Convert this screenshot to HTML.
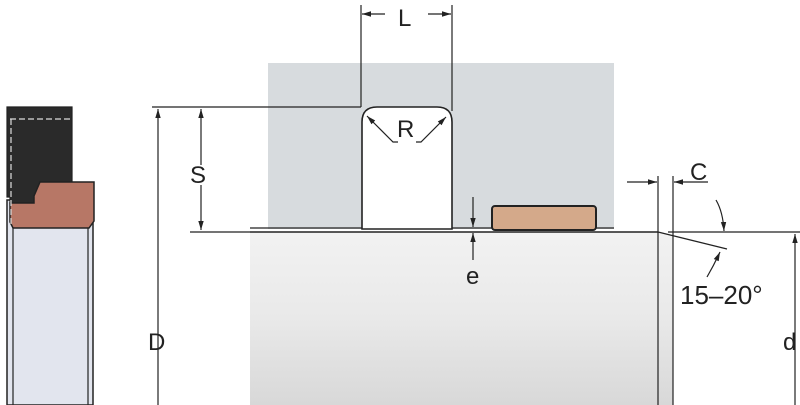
<!DOCTYPE html>
<html><head><style>body{margin:0;background:#fff}svg{display:block}text{font-family:"Liberation Sans",sans-serif;fill:#222}</style></head><body>
<svg width="800" height="405" viewBox="0 0 800 405" xmlns="http://www.w3.org/2000/svg">
<defs>
<linearGradient id="sh" x1="0" y1="0" x2="0" y2="1"><stop offset="0" stop-color="#f2f2f2"/><stop offset="0.5" stop-color="#e9e9e9"/><stop offset="1" stop-color="#d8d8d8"/></linearGradient>
<marker id="a" viewBox="0 0 10 10" refX="10" refY="5" markerWidth="9" markerHeight="9" orient="auto-start-reverse" markerUnits="userSpaceOnUse"><path d="M0,2 L10,5 L0,8z" fill="#222"/></marker>
</defs>
<!-- housing -->
<rect x="268" y="63" width="346" height="166" fill="#d7dbde"/>
<!-- shaft -->
<path d="M250,232 L658,232 L673,236 L673,405 L250,405z" fill="url(#sh)"/>
<line x1="250" y1="232" x2="658" y2="232" stroke="#222" stroke-width="1.5"/>
<line x1="658" y1="232" x2="658" y2="405" stroke="#222" stroke-width="1.2"/>
<line x1="250" y1="228" x2="614" y2="228" stroke="#222" stroke-width="1.2"/>
<!-- groove -->
<path d="M362,229 L362,122 Q362,107 377,107 L437,107 Q452,107 452,122 L452,229z" fill="#fff" stroke="#222" stroke-width="1.6"/>
<!-- seal -->
<rect x="492" y="206" width="104" height="24" rx="3" fill="#d4a98a" stroke="#222" stroke-width="2"/>
<!-- chamfer -->
<line x1="658" y1="232" x2="727" y2="249" stroke="#222" stroke-width="1.2"/>
<line x1="668" y1="232" x2="800" y2="232" stroke="#222" stroke-width="1.2"/>
<line x1="673" y1="176" x2="673" y2="405" stroke="#222" stroke-width="1.2"/>
<line x1="658" y1="176" x2="658" y2="232" stroke="#222" stroke-width="1.2"/>
<line x1="627" y1="182" x2="657" y2="182" stroke="#222" stroke-width="1.2" marker-end="url(#a)"/>
<line x1="708" y1="182" x2="674" y2="182" stroke="#222" stroke-width="1.2" marker-end="url(#a)"/>
<text x="690" y="180" font-size="24">C</text>
<path d="M716,200 Q723,212 724,231" fill="none" stroke="#222" stroke-width="1.2" marker-end="url(#a)"/>
<path d="M707,277 Q714,265 720,252" fill="none" stroke="#222" stroke-width="1.2" marker-end="url(#a)"/>
<text x="680" y="304" font-size="26">15–20°</text>
<!-- d -->
<line x1="795" y1="405" x2="795" y2="234" stroke="#222" stroke-width="1.2" marker-end="url(#a)"/>
<text x="783" y="350" font-size="24">d</text>
<!-- D and S -->
<line x1="152" y1="107" x2="361" y2="107" stroke="#222" stroke-width="1.2"/>
<line x1="190" y1="232" x2="250" y2="232" stroke="#222" stroke-width="1.2"/>
<line x1="158" y1="405" x2="158" y2="109" stroke="#222" stroke-width="1.2" marker-end="url(#a)"/>
<text x="148" y="350" font-size="24">D</text>
<line x1="201" y1="165" x2="201" y2="109" stroke="#222" stroke-width="1.2" marker-end="url(#a)"/>
<line x1="201" y1="185" x2="201" y2="230" stroke="#222" stroke-width="1.2" marker-end="url(#a)"/>
<text x="190" y="183" font-size="24">S</text>
<!-- L -->
<line x1="361" y1="5" x2="361" y2="107" stroke="#222" stroke-width="1.2"/>
<line x1="452" y1="5" x2="452" y2="111" stroke="#222" stroke-width="1.2"/>
<line x1="385" y1="14" x2="362" y2="14" stroke="#222" stroke-width="1.2" marker-end="url(#a)"/>
<line x1="428" y1="14" x2="451" y2="14" stroke="#222" stroke-width="1.2" marker-end="url(#a)"/>
<text x="398" y="26" font-size="24">L</text>
<!-- R -->
<polyline points="398,142 393,142 367,116" fill="none" stroke="#222" stroke-width="1.2" marker-end="url(#a)"/>
<polyline points="416,142 421,142 446,117" fill="none" stroke="#222" stroke-width="1.2" marker-end="url(#a)"/>
<text x="397" y="137" font-size="24">R</text>
<!-- e -->
<line x1="473" y1="197" x2="473" y2="227" stroke="#222" stroke-width="1.2" marker-end="url(#a)"/>
<line x1="473" y1="260" x2="473" y2="233" stroke="#222" stroke-width="1.2" marker-end="url(#a)"/>
<text x="466" y="284" font-size="24">e</text>
<!-- left figure -->
<rect x="7" y="200" width="86" height="205" fill="#e2e5ee" stroke="#222" stroke-width="1.5"/>
<line x1="13" y1="228" x2="13" y2="405" stroke="#222" stroke-width="1.2"/>
<line x1="88" y1="228" x2="88" y2="405" stroke="#222" stroke-width="1.2"/>
<path d="M7,107 L72,107 L72,182 L40,182 L34,196 L34,203 L10,203 L10,197 L7,197z" fill="#2a2a2a" stroke="#222" stroke-width="1.2"/>
<path d="M40,182 L94,182 L94,221 L89,228 L13,228 L10,222 L10,203 L34,203 L34,196z" fill="#b77766" stroke="#222" stroke-width="1.5"/>
<line x1="10" y1="119" x2="72" y2="119" stroke="#ddd" stroke-width="1.2" stroke-dasharray="6,3"/>
<line x1="11" y1="119" x2="11" y2="225" stroke="#ddd" stroke-width="1.2" stroke-dasharray="6,3"/>
</svg>
</body></html>
